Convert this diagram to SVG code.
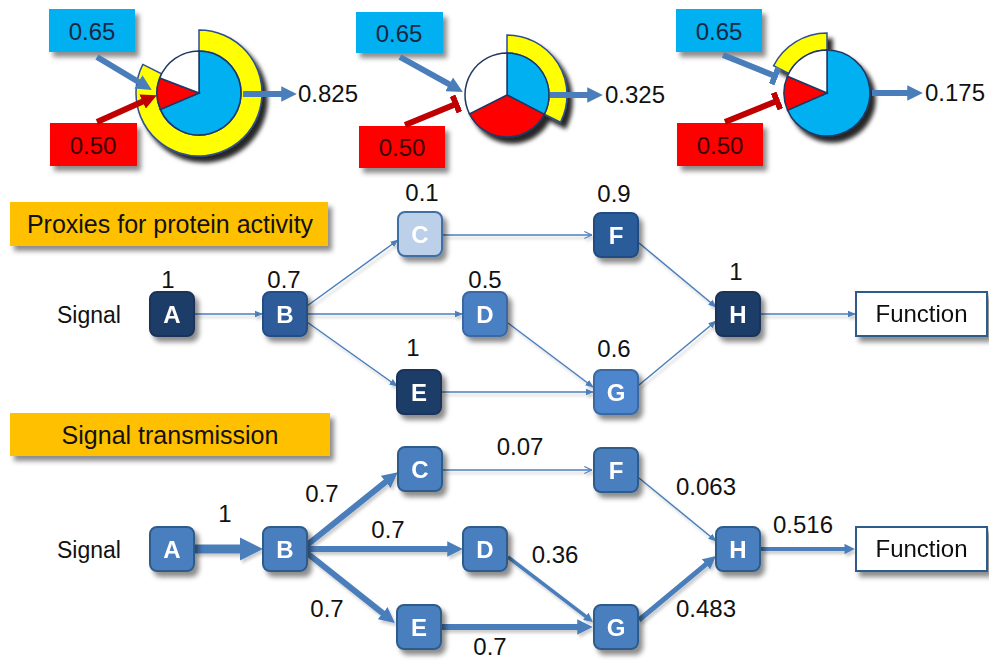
<svg xmlns="http://www.w3.org/2000/svg" width="989" height="661" viewBox="0 0 989 661">
<defs>
  <filter id="sh" x="-30%" y="-30%" width="170%" height="170%">
    <feDropShadow dx="4" dy="5" stdDeviation="2.5" flood-color="#000" flood-opacity="0.45"/>
  </filter>
  <filter id="psh" x="-30%" y="-30%" width="170%" height="170%">
    <feDropShadow dx="5" dy="6" stdDeviation="2" flood-color="#000" flood-opacity="0.85"/>
  </filter>
  <filter id="lsh" x="-10%" y="-10%" width="130%" height="140%">
    <feDropShadow dx="2" dy="3" stdDeviation="1.5" flood-color="#000" flood-opacity="0.2"/>
  </filter>
  <marker id="ah" viewBox="0 0 10 10" refX="0.5" refY="5" markerWidth="2.6" markerHeight="2.6" orient="auto">
    <path d="M0,0 L10,5 L0,10 Z" fill="#4a7ebb"/>
  </marker>
  <marker id="ahR" viewBox="0 0 10 10" refX="0.5" refY="5" markerWidth="2.6" markerHeight="2.6" orient="auto">
    <path d="M0,0 L10,5 L0,10 Z" fill="#c00000"/>
  </marker>
  <marker id="ahT" viewBox="0 0 10 10" refX="9" refY="5" markerWidth="5.5" markerHeight="5.5" orient="auto">
    <path d="M0,1 L10,5 L0,9 Z" fill="#4a7ebb"/>
  </marker>
  <marker id="ahO" viewBox="0 0 10 10" refX="9.5" refY="5" markerWidth="6" markerHeight="6" orient="auto">
    <path d="M1,1 L9.5,5 L1,9" fill="none" stroke="#4a7ebb" stroke-width="1.2"/>
  </marker>
  <marker id="tR" viewBox="0 0 6 18" refX="3" refY="9" markerWidth="6" markerHeight="18" markerUnits="userSpaceOnUse" orient="auto">
    <rect x="0" y="0" width="6" height="18" fill="#c00000"/>
  </marker>
  <marker id="tB" viewBox="0 0 6 18" refX="3" refY="9" markerWidth="6" markerHeight="18" markerUnits="userSpaceOnUse" orient="auto">
    <rect x="0" y="0" width="6" height="18" fill="#4a7ebb"/>
  </marker>
</defs>
<style>
  text { font-family: "Liberation Sans", Arial, sans-serif; fill: #111; }
  .val { font-size: 24px; text-anchor: middle; }
  .lbl { font-size: 23px; text-anchor: middle; }
  .title { font-size: 25px; text-anchor: middle; }
  .let { font-size: 24px; font-weight: bold; fill: #fff; text-anchor: middle; }
  .node rect { stroke-width: 2; rx: 7; }
  .bl { fill: #00b0f0; }
  .rd { fill: #ff0000; }
  .wh { fill: #ffffff; }
  .yl { fill: #ffff00; stroke: #2f4f8f; stroke-width: 1.5; }
  .sl { stroke: #1f3864; stroke-width: 1.5; }
  .e { fill: none; stroke: #4a7ebb; }
  .er { fill: none; stroke: #c00000; }
  .thin { stroke-width: 1.5; }
  .orange { fill: #ffc000; }
</style>

<!-- ===== Top pies ===== -->
<g id="pie1">
  <g filter="url(#psh)">
    <path class="yl" d="M199,30 A63,63 0 1 1 142.87,64.40 L161.58,73.93 A42,42 0 1 0 199,51 Z"/>
    <path class="bl sl" d="M199,93 L199,51 A42,42 0 1 1 160.34,109.41 Z"/>
    <path class="rd sl" d="M199,93 L160.34,109.41 A42,42 0 0 1 159.79,77.95 Z"/>
    <path class="wh sl" d="M199,93 L159.79,77.95 A42,42 0 0 1 199,51 Z"/>
  </g>
  <rect x="49" y="9" width="86" height="43" class="bl" filter="url(#sh)"/>
  <text class="val" x="92" y="40" style="fill:#1a2744">0.65</text>
  <rect x="50" y="123" width="87" height="43" class="rd" filter="url(#sh)"/>
  <text class="val" x="93" y="154" style="fill:#3a0000">0.50</text>
  <text class="val" x="328" y="102">0.825</text>
</g>

<g id="pie2">
  <g filter="url(#psh)">
    <path class="yl" d="M507,35 A60,60 0 0 1 560.46,122.24 L544.42,114.07 A42,42 0 0 0 507,53 Z"/>
    <path class="bl sl" d="M507,95 L507,53 A42,42 0 0 1 544.25,114.39 Z"/>
    <path class="rd sl" d="M507,95 L544.25,114.39 A42,42 0 0 1 469.44,113.80 Z"/>
    <path class="wh sl" d="M507,95 L469.44,113.80 A42,42 0 0 1 507,53 Z"/>
  </g>
  <rect x="356" y="12" width="87" height="41" class="bl" filter="url(#sh)"/>
  <text class="val" x="399" y="42" style="fill:#1a2744">0.65</text>
  <rect x="359" y="126" width="86" height="42" class="rd" filter="url(#sh)"/>
  <text class="val" x="402" y="156" style="fill:#3a0000">0.50</text>
  <text class="val" x="635" y="103">0.325</text>
</g>

<g id="pie3">
  <g filter="url(#psh)">
    <path class="yl" d="M773.54,65.76 A60,60 0 0 1 827,33 L827,50 A43,43 0 0 0 788.69,73.48 Z"/>
    <path class="bl sl" d="M827,93 L827,50 A43,43 0 1 1 787.56,110.14 Z"/>
    <path class="rd sl" d="M827,93 L787.56,110.14 A43,43 0 0 1 787.42,76.20 Z"/>
    <path class="wh sl" d="M827,93 L787.42,76.20 A43,43 0 0 1 827,50 Z"/>
  </g>
  <rect x="676" y="9" width="86" height="43" class="bl" filter="url(#sh)"/>
  <text class="val" x="719" y="40" style="fill:#1a2744">0.65</text>
  <rect x="677" y="123" width="86" height="43" class="rd" filter="url(#sh)"/>
  <text class="val" x="720" y="154" style="fill:#3a0000">0.50</text>
  <text class="val" x="955" y="101">0.175</text>
</g>

<g id="pie-connectors">
  <line class="e" stroke-width="6" x1="97" y1="57" x2="139.1" y2="82.3" marker-end="url(#ah)"/>
  <line class="er" stroke-width="6" x1="97" y1="122" x2="143.3" y2="101.2" marker-end="url(#ahR)"/>
  <line class="e" stroke-width="6" x1="243" y1="94" x2="282" y2="94" marker-end="url(#ah)"/>
  <line class="e" stroke-width="6" x1="400" y1="57" x2="449.9" y2="84.7" marker-end="url(#ah)"/>
  <line class="er" stroke-width="6" x1="405" y1="125" x2="456" y2="104" marker-end="url(#tR)"/>
  <line class="e" stroke-width="6" x1="550" y1="95" x2="588" y2="95" marker-end="url(#ah)"/>
  <line class="e" stroke-width="6" x1="723" y1="55" x2="775" y2="76" marker-end="url(#tB)"/>
  <line class="er" stroke-width="6" x1="725" y1="122" x2="777" y2="101" marker-end="url(#tR)"/>
  <line class="e" stroke-width="6" x1="872" y1="93" x2="908" y2="93" marker-end="url(#ah)"/>
</g>

<!-- ===== Middle graph: Proxies for protein activity ===== -->
<g id="title1">
  <rect x="10" y="202" width="318" height="44" class="orange" filter="url(#sh)"/>
  <text class="title" x="170" y="233">Proxies for protein activity</text>
</g>

<g id="connectors1" filter="url(#lsh)">
  <line class="e thin" x1="195" y1="314" x2="262" y2="314" marker-end="url(#ahT)"/>
  <line class="e thin" x1="307" y1="306" x2="398" y2="240" marker-end="url(#ahT)"/>
  <line class="e thin" x1="307" y1="314" x2="462" y2="314" marker-end="url(#ahT)"/>
  <line class="e thin" x1="307" y1="322" x2="397" y2="386" marker-end="url(#ahT)"/>
  <line class="e thin" x1="443" y1="235" x2="592" y2="235" marker-end="url(#ahO)"/>
  <line class="e thin" x1="508" y1="323" x2="593" y2="387" marker-end="url(#ahT)"/>
  <line class="e thin" x1="442" y1="392" x2="593" y2="392" marker-end="url(#ahT)"/>
  <line class="e thin" x1="639" y1="243" x2="716" y2="307" marker-end="url(#ahT)"/>
  <line class="e thin" x1="639" y1="385" x2="716" y2="321" marker-end="url(#ahT)"/>
  <line class="e thin" x1="761" y1="314" x2="855" y2="314" marker-end="url(#ahT)"/>
</g>

<g id="signal1"><text class="lbl" x="89" y="323">Signal</text></g>
<g id="m-A" class="node" filter="url(#sh)"><rect x="150" y="292" width="44" height="44" fill="#1f3d68" stroke="#1a3358"/><text class="let" x="172" y="323">A</text></g>
<g id="m-B" class="node" filter="url(#sh)"><rect x="263" y="292" width="44" height="44" fill="#2d5c9b" stroke="#244d85"/><text class="let" x="285" y="323">B</text></g>
<g id="m-C" class="node" filter="url(#sh)"><rect x="398" y="212" width="44" height="44" fill="#bcd0ea" stroke="#3f6ea6"/><text class="let" x="420" y="243">C</text></g>
<g id="m-D" class="node" filter="url(#sh)"><rect x="463" y="292" width="44" height="44" fill="#4a7fc3" stroke="#3a68a3"/><text class="let" x="485" y="323">D</text></g>
<g id="m-E" class="node" filter="url(#sh)"><rect x="397" y="370" width="44" height="44" fill="#1f3d68" stroke="#1a3358"/><text class="let" x="419" y="401">E</text></g>
<g id="m-F" class="node" filter="url(#sh)"><rect x="594" y="213" width="44" height="44" fill="#2b5b9a" stroke="#234c82"/><text class="let" x="616" y="244">F</text></g>
<g id="m-G" class="node" filter="url(#sh)"><rect x="594" y="370" width="44" height="44" fill="#4e86cd" stroke="#3a68a3"/><text class="let" x="616" y="401">G</text></g>
<g id="m-H" class="node" filter="url(#sh)"><rect x="716" y="292" width="44" height="44" fill="#1f3d68" stroke="#1a3358"/><text class="let" x="738" y="323">H</text></g>
<g id="m-Function" filter="url(#sh)"><rect x="856" y="292" width="131" height="44" fill="#fff" stroke="#2e5c8a" stroke-width="2"/><text class="lbl" x="921.5" y="322" style="font-size:24px">Function</text></g>

<g id="values1">
  <text class="val" x="168" y="288">1</text>
  <text class="val" x="284" y="288">0.7</text>
  <text class="val" x="422" y="201">0.1</text>
  <text class="val" x="485" y="288">0.5</text>
  <text class="val" x="413" y="356">1</text>
  <text class="val" x="614" y="202">0.9</text>
  <text class="val" x="614" y="357">0.6</text>
  <text class="val" x="736" y="280">1</text>
</g>

<!-- ===== Bottom graph: Signal transmission ===== -->
<g id="title2">
  <rect x="10" y="413" width="320" height="43" class="orange" filter="url(#sh)"/>
  <text class="title" x="170" y="444">Signal transmission</text>
</g>

<g id="connectors2" filter="url(#lsh)">
  <line class="e" stroke-width="9" x1="195" y1="549" x2="241" y2="549" marker-end="url(#ah)"/>
  <line class="e" stroke-width="6" x1="307" y1="545" x2="386.3" y2="481.4" marker-end="url(#ah)"/>
  <line class="e" stroke-width="6" x1="307" y1="549" x2="448" y2="549" marker-end="url(#ah)"/>
  <line class="e" stroke-width="6" x1="307" y1="553" x2="383.3" y2="613.7" marker-end="url(#ah)"/>
  <line class="e thin" x1="443" y1="470" x2="592" y2="470" marker-end="url(#ahO)"/>
  <line class="e" stroke-width="6" x1="442" y1="627" x2="578" y2="627" marker-end="url(#ah)"/>
  <line class="e" stroke-width="3.5" x1="508" y1="557" x2="586.1" y2="616.7" marker-end="url(#ah)"/>
  <line class="e thin" x1="639" y1="478" x2="716" y2="541" marker-end="url(#ahT)"/>
  <line class="e" stroke-width="5" x1="639" y1="620" x2="706.5" y2="563.9" marker-end="url(#ah)"/>
  <line class="e" stroke-width="4" x1="761" y1="549" x2="845" y2="549" marker-end="url(#ah)"/>
</g>

<g id="signal2"><text class="lbl" x="89" y="558">Signal</text></g>
<g id="s-A" class="node" filter="url(#sh)"><rect x="150" y="527" width="44" height="44" fill="#4a7ebf" stroke="#2e5c8a"/><text class="let" x="172" y="558">A</text></g>
<g id="s-B" class="node" filter="url(#sh)"><rect x="263" y="527" width="44" height="44" fill="#4a7ebf" stroke="#2e5c8a"/><text class="let" x="285" y="558">B</text></g>
<g id="s-C" class="node" filter="url(#sh)"><rect x="398" y="447" width="44" height="44" fill="#4a7ebf" stroke="#2e5c8a"/><text class="let" x="420" y="478">C</text></g>
<g id="s-D" class="node" filter="url(#sh)"><rect x="463" y="527" width="44" height="44" fill="#4a7ebf" stroke="#2e5c8a"/><text class="let" x="485" y="558">D</text></g>
<g id="s-E" class="node" filter="url(#sh)"><rect x="397" y="605" width="44" height="44" fill="#4a7ebf" stroke="#2e5c8a"/><text class="let" x="419" y="636">E</text></g>
<g id="s-F" class="node" filter="url(#sh)"><rect x="594" y="448" width="44" height="44" fill="#4a7ebf" stroke="#2e5c8a"/><text class="let" x="616" y="479">F</text></g>
<g id="s-G" class="node" filter="url(#sh)"><rect x="594" y="605" width="44" height="44" fill="#4a7ebf" stroke="#2e5c8a"/><text class="let" x="616" y="636">G</text></g>
<g id="s-H" class="node" filter="url(#sh)"><rect x="716" y="527" width="44" height="44" fill="#4a7ebf" stroke="#2e5c8a"/><text class="let" x="738" y="558">H</text></g>
<g id="s-Function" filter="url(#sh)"><rect x="856" y="527" width="131" height="44" fill="#fff" stroke="#2e5c8a" stroke-width="2"/><text class="lbl" x="921.5" y="557" style="font-size:24px">Function</text></g>

<g id="values2">
  <text class="val" x="225" y="522">1</text>
  <text class="val" x="322" y="502">0.7</text>
  <text class="val" x="388" y="538">0.7</text>
  <text class="val" x="327" y="617">0.7</text>
  <text class="val" x="490" y="655">0.7</text>
  <text class="val" x="520" y="455">0.07</text>
  <text class="val" x="706" y="495">0.063</text>
  <text class="val" x="555" y="563">0.36</text>
  <text class="val" x="706" y="617">0.483</text>
  <text class="val" x="803" y="533">0.516</text>
</g>
</svg>
